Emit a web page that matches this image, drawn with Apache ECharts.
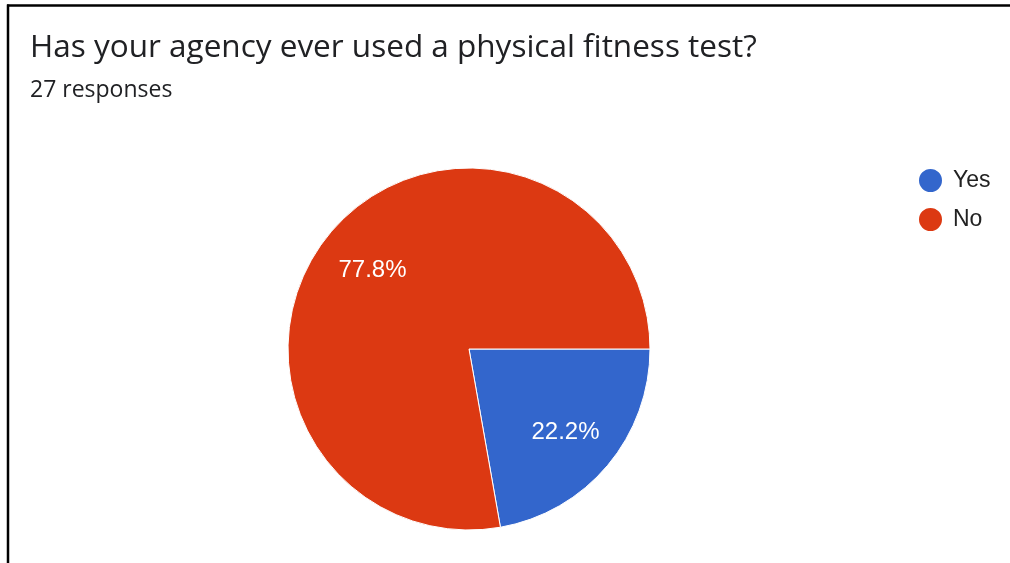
<!DOCTYPE html>
<html>
<head>
<meta charset="utf-8">
<script src="https://cdn.jsdelivr.net/npm/echarts@6/dist/echarts.min.js"></script>
<style>
html,body{margin:0;padding:0;background:#fff;}
#main{width:1010px;height:563px;}
</style>
</head>
<body>
<div id="main"></div>
<script>
const titleText = "Has your agency ever used a physical fitness test?";
const subText = "27 responses";
const categories = ["Yes", "No"];
const counts = [6, 21];
const colors = ["#3366cc", "#dc3912"];

const pieData = categories.map((c, i) => ({ name: c, value: counts[i], itemStyle: { color: colors[i] } }));
const chart = echarts.init(document.getElementById('main'), null, { renderer: 'canvas' });
const titleFont = '"Open Sans", Roboto, sans-serif';
const font = '"Liberation Sans", Arial, sans-serif';
chart.setOption({
  backgroundColor: '#fff',
  animation: false,
  title: [
    { text: titleText, left: 25, top: 27, textStyle: { fontFamily: titleFont, fontSize: 31.5, fontWeight: 'normal', color: '#202124' } },
    { text: subText, left: 25, top: 74, textStyle: { fontFamily: titleFont, fontSize: 23, fontWeight: 'normal', color: '#202124' } }
  ],
  legend: {
    orient: 'vertical', left: 912, top: 162,
    data: categories,
    icon: 'circle', itemWidth: 25, itemHeight: 25, itemGap: 12,
    textStyle: { fontFamily: font, fontSize: 23, color: '#222', padding: [0, 0, 0, 5] },
    selectedMode: false
  },
  graphic: [
    { type: 'line', shape: { x1: 8, y1: 4.5, x2: 8, y2: 563 }, style: { stroke: '#000', lineWidth: 2.5 } },
    { type: 'line', shape: { x1: 7, y1: 5.5, x2: 1010, y2: 5.5 }, style: { stroke: '#000', lineWidth: 2.5 } }
  ],
  series: [
    {
      type: 'pie', center: [469, 349], radius: [0, 181],
      startAngle: 0, clockwise: true,
      data: pieData,
      itemStyle: { borderColor: '#fff', borderWidth: 1 },
      label: { show: false }, labelLine: { show: false },
      emphasis: { scale: false }
    },
    {
      type: 'pie', center: [469, 351], radius: [0, 246],
      startAngle: 0, clockwise: true, silent: true,
      legendHoverLink: false,
      data: pieData.map(d => ({ name: d.name, value: d.value, itemStyle: { color: 'rgba(0,0,0,0)' } })),
      itemStyle: { borderWidth: 0, opacity: 0 },
      label: { show: true, position: 'inside', formatter: p => p.percent.toFixed(1) + '%', fontFamily: font, fontSize: 24, color: '#fff', opacity: 1 },
      labelLine: { show: false }
    }
  ]
});
</script>
</body>
</html>
